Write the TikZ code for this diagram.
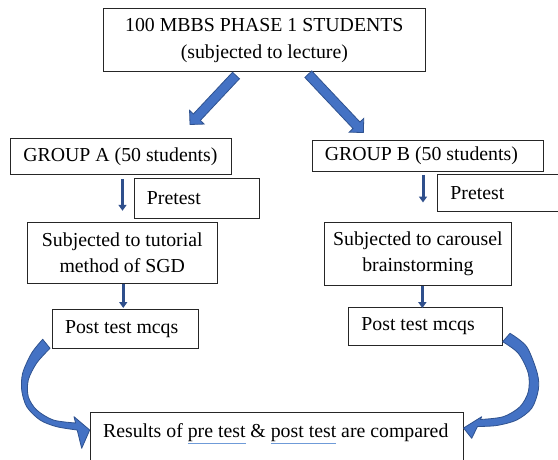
\documentclass[tikz,border=0pt]{standalone}
\usepackage{fontspec}
\setmainfont{Liberation Serif}
\usetikzlibrary{arrows.meta,calc}
\definecolor{arrfill}{HTML}{4472C4}
\definecolor{arredge}{HTML}{2F528F}
\definecolor{navy}{HTML}{2F4F8C}
\definecolor{ulblue}{HTML}{6F9BD8}
\newcommand{\spellul}[1]{\textcolor{ulblue}{\underline{\textcolor{black}{#1}}}}
\newcommand{\lefttext}[2]{\makebox[#1][l]{#2}}
\newcommand{\blockarrow}[2]{%
  \path[blockarr] let \p1=(#1), \p2=(#2), \n1={atan2(\y2-\y1,\x2-\x1)}, \n2={veclen(\x2-\x1,\y2-\y1)} in
    [shift={(\p1)}, rotate=\n1] (0,4.75) -- ({\n2-10},4.75) -- ({\n2-10},10) -- (\n2,0) -- ({\n2-10},-10) -- ({\n2-10},-4.75) -- (0,-4.75) -- cycle;}
\begin{document}
\begin{tikzpicture}[x=1pt,y=-1pt,
  font=\fontsize{19.8}{26}\selectfont,
  box/.style={draw=black!85, line width=0.8pt, inner sep=0pt, anchor=north west},
  lbox/.style={box, inner xsep=13pt},
  cbox/.style={box, align=center},
  blockarr/.style={fill=arrfill, draw=arredge, line width=0.8pt, line join=miter},
  thinarr/.style={draw=navy, line width=3pt, -{Triangle[width=8pt,length=6pt]}},
  curvedarr/.style={fill=arrfill, draw=arredge, line width=0.8pt, line join=round}]
\useasboundingbox (0,0) rectangle (558,459);
\fill[white] (0,0) rectangle (558,459);

\node[cbox, minimum width=322.9pt, minimum height=62.7pt] (top) at (102.5,8.3)
  {100 MBBS PHASE 1 STUDENTS\\[1pt](subjected to lecture)};

\node[lbox, minimum height=35.7pt] (ga) at (10,138.3) {\lefttext{195.4pt}{GROUP A (50 students)}};
\node[lbox, minimum height=30.7pt] (gb) at (311.5,140) {\lefttext{205.5pt}{GROUP B (50 students)}};

\node[lbox, minimum height=39.7pt] (pta) at (133.5,178.3) {\lefttext{99.5pt}{Pretest}};
\node[lbox, minimum height=36.7pt] (ptb) at (437,174) {\lefttext{137pt}{Pretest}};

\node[cbox, minimum width=190.3pt, minimum height=61pt] (tut) at (26.7,221.7)
  {Subjected to tutorial\\method of SGD};
\node[cbox, minimum width=186.9pt, minimum height=63.3pt] (car) at (324,221.7)
  {Subjected to carousel\\brainstorming};

\node[lbox, minimum height=38.4pt] (poa) at (51.6,309.3) {\lefttext{120pt}{Post test mcqs}};
\node[lbox, minimum height=37.7pt] (pob) at (348,307.3) {\lefttext{128pt}{Post test mcqs}};

\node[lbox, inner ysep=11.5pt, text height=13.5pt, text depth=40pt] (res) at (89.7,411.7)
  {\lefttext{347.1pt}{Results of \spellul{pre test} \& \spellul{post test} are compared}};

% block arrows from the top box
\coordinate (la0) at (236,75.5);
\coordinate (la1) at (190,124.5);
\coordinate (ra0) at (308.3,74.2);
\coordinate (ra1) at (363.5,132.7);
\blockarrow{la0}{la1}
\blockarrow{ra0}{ra1}

% thin down arrows
\draw[thinarr] ($(ga.south west)+(112.5,4.3)$) -- ($(ga.south west)+(112.5,36)$);
\draw[thinarr] ($(tut.south)+(1,0)$) -- ($(tut.south)+(1,24.5)$);
\draw[thinarr] ($(gb.south west)+(111.5,3.3)$) -- ($(gb.south west)+(111.5,31)$);
\draw[thinarr] ($(car.south)+(4.5,0)$) -- ($(car.south)+(4.5,22.3)$);

% curved arrows into the results box
\path[curvedarr] (42.7,339.3) -- plot[smooth] coordinates {(42.7,339.3) (31.7,353) (22.7,373) (21.7,390) (26.7,406.7) (40,420) (56.7,426.7) (77.2,430)}
  -- (81.7,448.3) -- (res.west |- 0,430) -- (74,416.7) -- (75.6,423)
  -- plot[smooth] coordinates {(75.6,423) (53.3,420) (36.7,410) (28.3,396.7) (28.3,380) (36.7,363) (50,348.3)} -- cycle;
\path[curvedarr] (510,333.3) -- plot[smooth] coordinates {(510,333.3) (526.7,346.7) (537.3,373.3) (538.3,390) (531.7,408.3) (516.7,420) (496.7,425.5) (477.5,426.5)}
  -- (471.7,438.3) -- (res.east |- 0,428) -- (481.7,416.7) -- (480.5,419.5)
  -- plot[smooth] coordinates {(480.5,419.5) (503.3,416.7) (520,406.7) (528.3,391.7) (528.3,373.3) (518.3,353.3) (502.7,341.7)} -- cycle;
\end{tikzpicture}
\end{document}
